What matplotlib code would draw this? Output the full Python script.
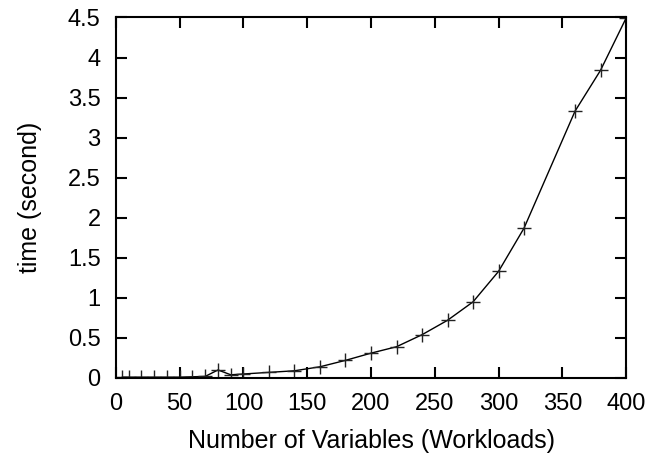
import matplotlib
matplotlib.use("Agg")
import matplotlib.pyplot as plt

x_vals = [5, 10, 20, 30, 40, 50, 60, 70, 80, 90, 100, 120, 140, 160, 180, 200,
          220, 240, 260, 280, 300, 320, 360, 380, 400]
y_vals = [0.01, 0.01, 0.01, 0.01, 0.01, 0.01, 0.015, 0.02, 0.1, 0.04, 0.05, 0.07,
          0.09, 0.14, 0.22, 0.31, 0.39, 0.54, 0.72, 0.95, 1.33, 1.87, 3.33, 3.84, 4.49]
x_ticks = [0, 50, 100, 150, 200, 250, 300, 350, 400]
y_ticks = [0, 0.5, 1, 1.5, 2, 2.5, 3, 3.5, 4, 4.5]
y_tick_labels = ["0", "0.5", "1", "1.5", "2", "2.5", "3", "3.5", "4", "4.5"]

plt.rcParams['font.family'] = ['Liberation Sans', 'DejaVu Sans']

fig = plt.figure(figsize=(6.49, 4.59), dpi=100)
ax = fig.add_axes([0.1787, 0.1765, 0.7859, 0.7855])

ax.plot(x_vals, y_vals, color='black', linewidth=1.0, marker='+',
        markersize=10, markeredgewidth=1.0, markeredgecolor='#222222')

ax.set_xlim(0, 400)
ax.set_ylim(0, 4.5)
ax.set_xticks(x_ticks)
ax.set_yticks(y_ticks)
ax.set_yticklabels(y_tick_labels)
ax.tick_params(direction='in', length=8, width=1.5, top=True, right=True,
               labelsize=17, colors='black')
ax.tick_params(axis='x', pad=11)
ax.tick_params(axis='y', pad=11)
for s in ax.spines.values():
    s.set_linewidth(1.5)

ax.set_xlabel("Number of Variables (Workloads)", fontsize=18, labelpad=10)
ax.set_ylabel("time (second)", fontsize=18, labelpad=19)

fig.savefig("out.png", dpi=100)
